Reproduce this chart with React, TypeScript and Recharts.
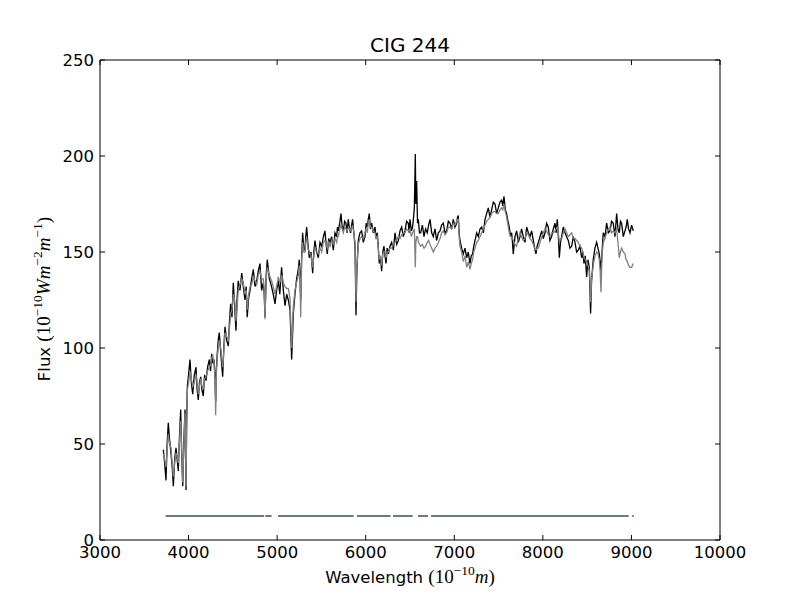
import React from "react";
import { LineChart, Line, XAxis, YAxis } from "recharts";

// Wavelength sampling (Angstrom)
const wavelengths: number[] = [
  3715, 3730, 3745, 3758, 3771, 3786, 3802, 3815, 3828, 3843,
  3858, 3871, 3884, 3898, 3911, 3922, 3934, 3947, 3960, 3966,
  3971, 3978, 3986, 4000, 4016, 4031, 4047, 4065, 4084, 4097,
  4110, 4123, 4137, 4151, 4166, 4181, 4197, 4215, 4234, 4248,
  4261, 4274, 4287, 4298, 4306, 4315, 4324, 4335, 4347, 4366,
  4385, 4398, 4411, 4430, 4449, 4462, 4475, 4490, 4505, 4520,
  4535, 4548, 4561, 4580, 4600, 4618, 4637, 4650, 4662, 4678,
  4694, 4712, 4731, 4750, 4769, 4787, 4806, 4825, 4844, 4854,
  4863, 4876, 4889, 4912, 4937, 4956, 4976, 4994, 5013, 5030,
  5050, 5070, 5089, 5108, 5126, 5145, 5164, 5183, 5201, 5220,
  5239, 5250, 5258, 5266, 5277, 5288, 5300, 5314, 5323, 5333,
  5348, 5363, 5382, 5401, 5414, 5427, 5446, 5465, 5484, 5503,
  5522, 5540, 5553, 5566, 5582, 5597, 5615, 5634, 5653, 5672,
  5681, 5691, 5706, 5721, 5734, 5747, 5762, 5777, 5790, 5803,
  5817, 5830, 5841, 5852, 5866, 5879, 5885, 5890, 5900, 5916,
  5935, 5954, 5973, 5992, 6005, 6018, 6029, 6040, 6053, 6067,
  6086, 6105, 6118, 6131, 6142, 6153, 6166, 6180, 6193, 6206,
  6218, 6229, 6242, 6255, 6274, 6293, 6312, 6331, 6350, 6368,
  6387, 6406, 6425, 6443, 6462, 6481, 6490, 6500, 6515, 6529,
  6540, 6549, 6556, 6560, 6566, 6575, 6585, 6594, 6607, 6620,
  6640, 6658, 6676, 6695, 6710, 6726, 6745, 6763, 6782, 6801,
  6820, 6839, 6857, 6876, 6895, 6914, 6933, 6952, 6970, 6989,
  7008, 7027, 7036, 7045, 7055, 7064, 7083, 7102, 7121, 7140,
  7158, 7177, 7192, 7207, 7220, 7234, 7253, 7271, 7290, 7309,
  7328, 7347, 7365, 7384, 7403, 7422, 7441, 7460, 7478, 7497,
  7516, 7535, 7548, 7561, 7576, 7591, 7606, 7621, 7635, 7648,
  7657, 7666, 7685, 7704, 7723, 7742, 7760, 7779, 7798, 7817,
  7836, 7855, 7873, 7892, 7907, 7922, 7935, 7949, 7968, 7987,
  8005, 8024, 8042, 8061, 8080, 8099, 8118, 8137, 8150, 8163,
  8175, 8186, 8199, 8212, 8231, 8250, 8268, 8287, 8306, 8325,
  8344, 8363, 8381, 8400, 8419, 8438, 8451, 8464, 8479, 8494,
  8509, 8524, 8532, 8539, 8550, 8569, 8588, 8607, 8622, 8637,
  8647, 8656, 8668, 8682, 8701, 8720, 8739, 8758, 8776, 8795,
  8814, 8833, 8848, 8863, 8876, 8889, 8908, 8927, 8940, 8953,
  8968, 8984, 9002, 9021,
];

// Observed flux (black)
const observedFlux: number[] = [
  47, 40, 31, 50, 61, 52, 45, 38, 28, 42,
  48, 42, 36, 55, 68, 45, 28, 52, 68, 45,
  26, 60, 80, 86, 94, 82, 76, 86, 90, 78,
  73, 82, 85, 78, 75, 86, 83, 90, 94, 88,
  97, 92, 94, 86, 72, 90, 97, 104, 108, 96,
  85, 100, 111, 104, 101, 114, 123, 116, 134, 122,
  109, 126, 135, 130, 139, 132, 125, 132, 116, 126,
  130, 136, 141, 132, 135, 140, 144, 130, 134, 128,
  116, 138, 146, 136, 132, 128, 123, 130, 135, 128,
  142, 130, 122, 128, 125, 120, 94, 118, 128, 136,
  141, 146, 138, 125, 148, 160, 152, 151, 158, 163,
  154, 147, 150, 139, 150, 156, 150, 147, 155, 153,
  158, 161, 154, 149, 157, 155, 158, 151, 160, 158,
  163, 161, 165, 170, 163, 161, 166, 165, 160, 167,
  162, 160, 164, 167, 160, 153, 135, 117, 140, 156,
  160, 161, 155, 158, 165, 163, 167, 170, 162, 165,
  160, 163, 157, 160, 152, 144, 148, 140, 150, 153,
  148, 144, 152, 149, 153, 155, 151, 160, 154, 156,
  161, 163, 158, 161, 166, 165, 160, 167, 161, 163,
  168, 173, 190, 201, 175, 187, 165, 167, 160, 160,
  164, 158, 162, 160, 164, 167, 160, 158, 162, 156,
  160, 161, 164, 165, 160, 161, 166, 165, 162, 167,
  163, 165, 168, 169, 160, 156, 152, 149, 152, 147,
  150, 144, 148, 149, 153, 156, 160, 158, 162, 163,
  160, 167, 170, 173, 168, 172, 176, 175, 170, 173,
  176, 177, 174, 179, 172, 170, 166, 163, 158, 160,
  155, 149, 158, 161, 155, 158, 162, 158, 155, 163,
  160, 158, 161, 156, 152, 149, 153, 155, 158, 161,
  157, 160, 165, 163, 156, 158, 162, 165, 160, 167,
  158, 147, 155, 158, 163, 160, 158, 156, 152, 153,
  158, 155, 150, 151, 153, 147, 150, 144, 148, 137,
  146, 142, 130, 118, 135, 146, 152, 155, 152, 149,
  145, 140, 150, 160, 158, 165, 160, 161, 166, 165,
  158, 170, 162, 160, 166, 165, 158, 161, 163, 167,
  162, 160, 164, 161,
];

// Model flux (grey)
const modelFlux: number[] = [
  45, 42, 38, 47, 55, 50, 48, 40, 33, 40,
  45, 44, 40, 52, 62, 48, 30, 50, 66, 50,
  28, 58, 78, 82, 88, 84, 80, 82, 86, 82,
  76, 80, 84, 80, 79, 84, 85, 88, 90, 91,
  95, 96, 92, 84, 65, 88, 95, 100, 104, 99,
  90, 98, 108, 106, 104, 110, 118, 120, 128, 125,
  114, 122, 130, 133, 136, 134, 128, 130, 120, 128,
  132, 133, 137, 135, 133, 138, 140, 136, 136, 130,
  115, 136, 142, 138, 135, 132, 128, 132, 137, 134,
  138, 134, 132, 131, 131, 126, 100, 122, 130, 134,
  138, 143, 136, 116, 146, 155, 150, 150, 155, 158,
  152, 150, 148, 142, 148, 152, 150, 149, 152, 150,
  155, 156, 154, 152, 155, 153, 156, 154, 157, 155,
  158, 158, 162, 164, 162, 160, 163, 162, 161, 163,
  162, 161, 162, 164, 160, 155, 140, 124, 142, 154,
  157, 158, 157, 160, 162, 160, 165, 167, 163, 163,
  161, 160, 157, 158, 152, 146, 148, 143, 149, 150,
  150, 147, 150, 150, 152, 152, 154, 155, 156, 158,
  157, 159, 160, 160, 162, 161, 161, 162, 158, 160,
  161, 162, 150, 142, 155, 158, 158, 155, 154, 153,
  154, 152, 153, 155, 156, 154, 152, 150, 152, 153,
  155, 157, 160, 161, 159, 160, 163, 163, 162, 165,
  164, 166, 167, 167, 158, 153, 150, 145, 148, 142,
  145, 141, 144, 146, 150, 152, 155, 156, 158, 160,
  162, 164, 166, 167, 168, 170, 171, 171, 170, 170,
  172, 173, 172, 175, 171, 168, 164, 160, 158, 158,
  157, 156, 154, 153, 157, 160, 158, 156, 157, 160,
  159, 157, 156, 154, 152, 151, 152, 152, 155, 158,
  160, 162, 161, 159, 158, 160, 160, 161, 162, 163,
  160, 155, 157, 157, 160, 162, 160, 158, 159, 160,
  157, 157, 156, 155, 153, 152, 150, 147, 146, 145,
  143, 140, 135, 124, 136, 143, 148, 150, 149, 146,
  140, 129, 148, 155, 157, 160, 162, 163, 160, 161,
  160, 162, 155, 147, 150, 152, 150, 149, 146, 145,
  143, 142, 142, 144,
];

// Masked-region indicator segments
const maskStarts: number[] = [3740, 4865, 5010, 5902, 6308, 6590, 6737, 9009];
const maskEnds: number[] = [4852, 4937, 5864, 6281, 6530, 6703, 8969, 9028];
const maskLevel = 12.5;

const xTicks: number[] = [3000, 4000, 5000, 6000, 7000, 8000, 9000, 10000];
const yTicks: number[] = [0, 50, 100, 150, 200, 250];

const spectrum = wavelengths.map((w, i) => ({ w, obs: observedFlux[i], model: modelFlux[i] }));
const maskSegments = maskStarts.map((s, i) => [
  { w: s, m: maskLevel },
  { w: maskEnds[i], m: maskLevel },
]);

const FONT = "'DejaVu Sans', 'Bitstream Vera Sans', sans-serif";
const MATH = "'Liberation Serif', 'DejaVu Serif', serif";
const TICK_LEN = 5;
const MS = 19;
const SS = 13.5;

const BottomTick = (props: any) => {
  const { x, y, payload } = props;
  return (
    <g>
      <line x1={x} y1={y} x2={x} y2={y - TICK_LEN} stroke="#000" strokeWidth={1} />
      <text x={x} y={y + 18} textAnchor="middle" fontFamily={FONT} fontSize={16.5} fill="#000">
        {payload.value}
      </text>
    </g>
  );
};

const TopTick = (props: any) => {
  const { x, y } = props;
  return <line x1={x} y1={y} x2={x} y2={y + TICK_LEN} stroke="#000" strokeWidth={1} />;
};

const LeftTick = (props: any) => {
  const { x, y, payload } = props;
  return (
    <g>
      <line x1={x} y1={y} x2={x + TICK_LEN} y2={y} stroke="#000" strokeWidth={1} />
      <text x={x - 6} y={y + 6} textAnchor="end" fontFamily={FONT} fontSize={16.5} fill="#000">
        {payload.value}
      </text>
    </g>
  );
};

const RightTick = (props: any) => {
  const { x, y } = props;
  return <line x1={x} y1={y} x2={x - TICK_LEN} y2={y} stroke="#000" strokeWidth={1} />;
};

export default function App() {
  return (
    <div style={{ position: "absolute", left: 0, top: 0, width: 800, height: 600, background: "#fff" }}>
      <LineChart width={800} height={600} data={spectrum} margin={{ top: 59, right: 79, bottom: 0, left: 0 }}>
        <XAxis
          xAxisId="b"
          type="number"
          dataKey="w"
          domain={[3000, 10000]}
          allowDataOverflow
          ticks={xTicks}
          interval={0}
          height={60}
          tickSize={0}
          tickMargin={0}
          tickLine={false}
          axisLine={{ stroke: "#000", strokeWidth: 1 }}
          tick={BottomTick}
        />
        <XAxis
          xAxisId="t"
          orientation="top"
          type="number"
          dataKey="w"
          domain={[3000, 10000]}
          allowDataOverflow
          ticks={xTicks}
          interval={0}
          height={1}
          tickSize={0}
          tickMargin={0}
          tickLine={false}
          axisLine={{ stroke: "#000", strokeWidth: 1 }}
          tick={TopTick}
        />
        <YAxis
          yAxisId="l"
          type="number"
          domain={[0, 250]}
          allowDataOverflow
          ticks={yTicks}
          interval={0}
          width={100}
          tickSize={0}
          tickMargin={0}
          tickLine={false}
          axisLine={{ stroke: "#000", strokeWidth: 1 }}
          tick={LeftTick}
        />
        <YAxis
          yAxisId="r"
          orientation="right"
          type="number"
          domain={[0, 250]}
          allowDataOverflow
          ticks={yTicks}
          interval={0}
          width={1}
          tickSize={0}
          tickMargin={0}
          tickLine={false}
          axisLine={{ stroke: "#000", strokeWidth: 1 }}
          tick={RightTick}
        />
        <Line
          xAxisId="b"
          yAxisId="l"
          type="linear"
          dataKey="obs"
          stroke="#000000"
          strokeWidth={1.3}
          dot={false}
          activeDot={false}
          isAnimationActive={false}
        />
        <Line
          xAxisId="b"
          yAxisId="l"
          type="linear"
          dataKey="model"
          stroke="#808080"
          strokeWidth={1.3}
          dot={false}
          activeDot={false}
          isAnimationActive={false}
        />
        {maskSegments.map((seg, i) => (
          <Line
            key={"mask" + i}
            xAxisId="t"
            yAxisId="r"
            data={seg}
            type="linear"
            dataKey="m"
            stroke="#6b7b82"
            strokeWidth={2}
            dot={false}
            activeDot={false}
            isAnimationActive={false}
          />
        ))}
      </LineChart>
      <svg
        width={800}
        height={600}
        style={{ position: "absolute", left: 0, top: 0, pointerEvents: "none" }}
      >
        <text x={410} y={52} textAnchor="middle" fontFamily={FONT} fontSize={20} fill="#000">
          CIG 244
        </text>
        <text x={410} y={583} textAnchor="middle" fontFamily={FONT} fontSize={16.5} fill="#000">
          Wavelength{" "}
          <tspan fontFamily={MATH} fontSize={MS}>(10</tspan>
          <tspan fontFamily={MATH} fontSize={SS} dy={-8}>−10</tspan>
          <tspan fontFamily={MATH} fontSize={MS} fontStyle="italic" dy={8}>m</tspan>
          <tspan fontFamily={MATH} fontSize={MS}>)</tspan>
        </text>
        <text
          transform="translate(50,299) rotate(-90)"
          textAnchor="middle"
          fontFamily={FONT}
          fontSize={16.5}
          fill="#000"
        >
          Flux{" "}
          <tspan fontFamily={MATH} fontSize={MS}>(10</tspan>
          <tspan fontFamily={MATH} fontSize={SS} dy={-8}>−10</tspan>
          <tspan fontFamily={MATH} fontSize={MS} fontStyle="italic" dy={8}>Wm</tspan>
          <tspan fontFamily={MATH} fontSize={SS} dy={-8}>−2</tspan>
          <tspan fontFamily={MATH} fontSize={MS} fontStyle="italic" dy={8}>m</tspan>
          <tspan fontFamily={MATH} fontSize={SS} dy={-8}>−1</tspan>
          <tspan fontFamily={MATH} fontSize={MS} dy={8}>)</tspan>
        </text>
      </svg>
    </div>
  );
}
